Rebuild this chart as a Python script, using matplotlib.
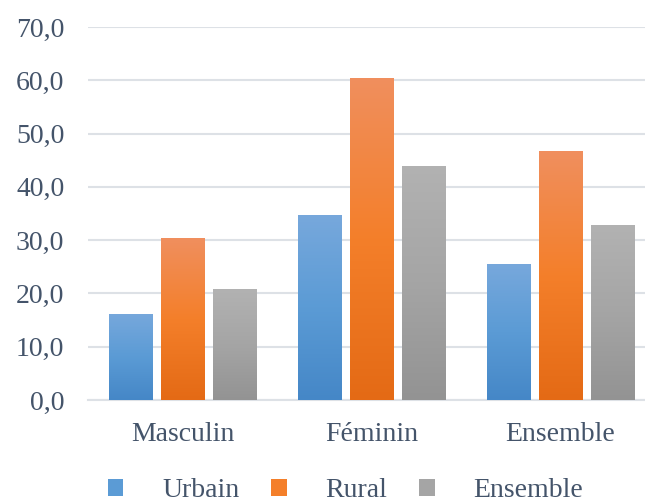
import numpy as np
import matplotlib
matplotlib.use("Agg")
import matplotlib.pyplot as plt
from matplotlib.colors import LinearSegmentedColormap
from matplotlib.patches import Patch

plt.rcParams['font.family'] = ['Liberation Serif', 'DejaVu Serif']

categories = ['Masculin', 'Féminin', 'Ensemble']
series = ['Urbain', 'Rural', 'Ensemble']
urbain = [16.2, 34.7, 25.5]
rural = [30.4, 60.5, 46.7]
ensemble = [20.8, 44.0, 32.8]
yticks = [0, 10, 20, 30, 40, 50, 60, 70]

# degradé haut clair -> bas foncé
gradients = [
    ['#77A8DC', '#5B9BD5', '#4587C7'],
    ['#F08F5E', '#F47F2A', '#E46A15'],
    ['#B2B2B2', '#A5A5A5', '#939393'],
]
text_col = '#44546A'

fig = plt.figure(figsize=(6.45, 4.98), dpi=100)
ax = fig.add_axes([88 / 645, 98 / 498, 1 - 88 / 645, 373 / 498])

x = np.arange(len(categories))
width = 0.229
step = 0.276
grad = np.linspace(1, 0, 256).reshape(-1, 1)

for k, vals in enumerate([urbain, rural, ensemble]):
    cmap = LinearSegmentedColormap.from_list('g%d' % k, gradients[k][::-1])
    bars = ax.bar(x + (k - 1) * step, vals, width, color='none', zorder=3)
    for b in bars:
        x0, y0 = b.get_x(), b.get_y()
        im = ax.imshow(grad, cmap=cmap, aspect='auto', zorder=3,
                       extent=[x0, x0 + b.get_width(), y0, y0 + b.get_height()],
                       vmin=0, vmax=1)
        im.set_clip_path(b)

ax.set_xlim(-0.5, (645 - 88) / 189 - 0.5)
ax.set_ylim(0, 70)
ax.set_yticks(yticks)
ax.yaxis.set_major_formatter(plt.FuncFormatter(lambda v, p: ('%.1f' % v).replace('.', ',')))
ax.set_xticks(x)
ax.set_xticklabels(categories)
ax.tick_params(length=0, labelsize=20, colors=text_col)
ax.tick_params(axis='y', pad=17)
ax.tick_params(axis='x', pad=16)
ax.grid(axis='y', color='#DDE1E6', linewidth=1.5, zorder=0)
for s in ['top', 'right', 'left']:
    ax.spines[s].set_visible(False)
ax.spines['bottom'].set_color('#DDE1E6')
ax.spines['bottom'].set_linewidth(1.5)

handles = [Patch(facecolor=g[1], edgecolor='none') for g in gradients]
leg = fig.legend(handles, series, loc='lower left', bbox_to_anchor=(83 / 645, -30 / 498),
                 ncol=3, frameon=False, fontsize=20, handlelength=0.55, handleheight=0.55,
                 handletextpad=1.4, columnspacing=1.15, labelcolor=text_col)

fig.savefig('out.png', dpi=100)
